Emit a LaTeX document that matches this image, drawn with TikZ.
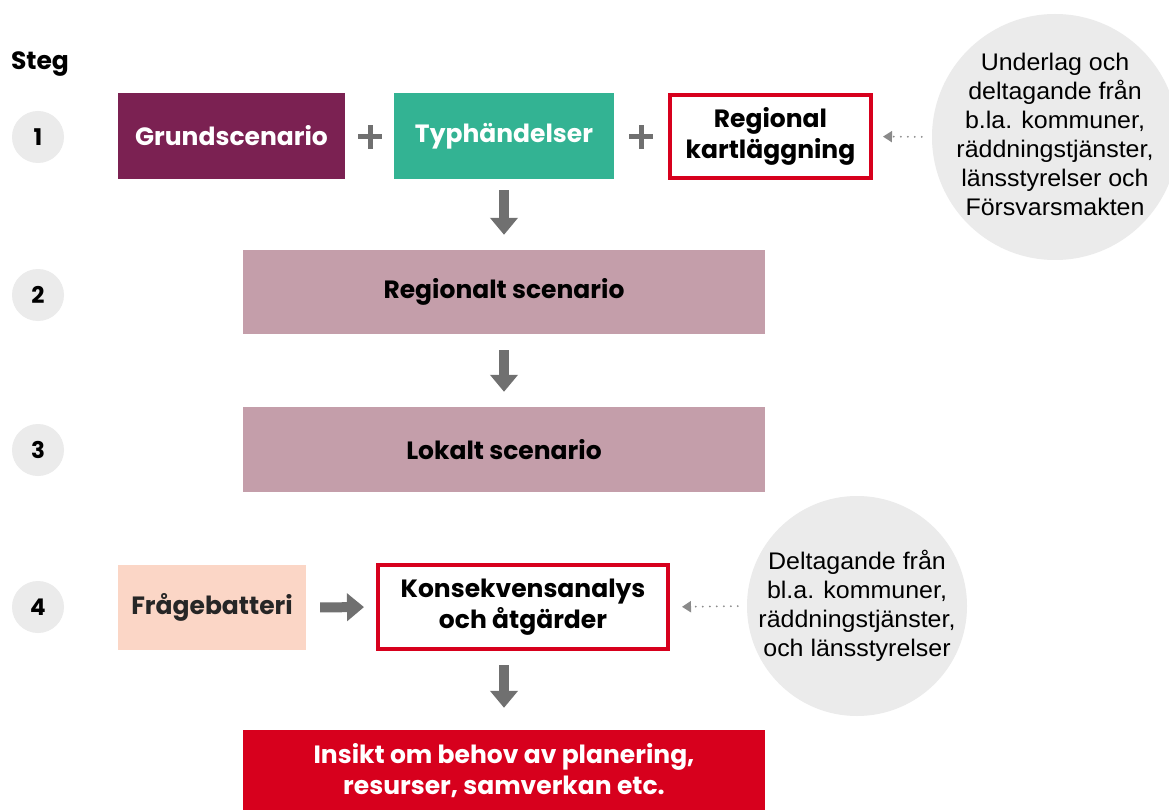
\documentclass[tikz,border=0pt]{standalone}
\usepackage{fontspec}
\setmainfont{Poppins}
\newfontfamily\arialf[FakeStretch=1.04]{Liberation Sans}
\usetikzlibrary{arrows.meta}
\definecolor{grund}{HTML}{7B2152}
\definecolor{typ}{HTML}{33B393}
\definecolor{rosa}{HTML}{C49EAA}
\definecolor{persika}{HTML}{FBD6C6}
\definecolor{rod}{HTML}{D7001D}
\definecolor{ljusgra}{HTML}{EBEBEB}
\definecolor{pilgra}{HTML}{707070}
\definecolor{prickgra}{HTML}{8A8A8A}
\tikzset{
  box/.style={rectangle, inner sep=0pt, align=center, font=\fontsize{25}{31}\selectfont\bfseries},
  redbox/.style={box, draw=rod, line width=4pt, fill=white},
  stepnum/.style={circle, fill=ljusgra, minimum size=52pt, inner sep=0pt, font=\fontsize{23}{26}\selectfont\bfseries},
  bubble/.style={circle, fill=ljusgra, inner sep=0pt},
  bubbletext/.style={inner sep=0pt, align=center, font=\arialf\fontsize{24}{29}\selectfont},
  blockarrow/.style={draw=pilgra, line width=10pt, -{Triangle[length=17pt,width=27pt]}},
  dotarrow/.style={draw=prickgra, line width=2pt, line cap=round, dash pattern=on 0pt off 7pt, -{Triangle[length=9pt,width=11pt]}},
  plusline/.style={draw=pilgra, line width=5pt}
}
\begin{document}
\begin{tikzpicture}[x=1pt,y=-1pt]
\useasboundingbox[fill=white] (0,0) rectangle (1169,810);

\node[font=\fontsize{25}{28}\selectfont\bfseries] (steg) at (40,64) {Steg};
\node[stepnum] (s1) at (38,137) {1};
\node[stepnum] (s2) at (38,295) {2};
\node[stepnum] (s3) at (38,450) {3};
\node[stepnum] (s4) at (38,607) {4};

\node[box, fill=grund, text=white, minimum width=227pt, minimum height=86pt] (grund) at (231.5,136) {Grundscenario};
\node[box, fill=typ, text=white, minimum width=220pt, minimum height=86pt] (typ) at (504,136) {Typhändelser};
\node[redbox, minimum width=201pt, minimum height=83pt] (regk) at (770.5,136.5) {Regional\\kartläggning};

\coordinate (p1) at (370,137);
\draw[plusline] ([xshift=-12pt]p1) -- ([xshift=12pt]p1);
\draw[plusline] ([yshift=-12pt]p1) -- ([yshift=12pt]p1);
\coordinate (p2) at (641,137);
\draw[plusline] ([xshift=-12pt]p2) -- ([xshift=12pt]p2);
\draw[plusline] ([yshift=-12pt]p2) -- ([yshift=12pt]p2);

\node[bubble, minimum size=246pt] (b1) at (1055,137) {};
\node[bubbletext] (b1t) at ([yshift=2.5pt]b1.center) {Underlag och\\deltagande från\\b.la. kommuner,\\räddningstjänster,\\länsstyrelser och\\Försvarsmakten};

\node[box, fill=rosa, minimum width=522pt, minimum height=84pt] (regs) at (504,292) {Regionalt scenario};
\node[box, fill=rosa, minimum width=522pt, minimum height=85pt] (loks) at (504,449.5) {Lokalt scenario};

\node[box, fill=persika, text=black!85, minimum width=188pt, minimum height=85pt] (frage) at (212,607.5) {Frågebatteri};
\node[redbox, minimum width=290pt, minimum height=84pt] (kons) at (523,607) {Konsekvensanalys\\och åtgärder};

\node[bubble, minimum size=220pt] (b2) at (857,606) {};
\node[bubbletext] (b2t) at (b2.center) {Deltagande från\\bl.a. kommuner,\\räddningstjänster,\\och länsstyrelser};

\node[box, fill=rod, text=white, minimum width=522pt, minimum height=82pt] (insikt) at (504,771) {Insikt om behov av planering,\\resurser, samverkan etc.};

\draw[blockarrow, shorten <=11pt, shorten >=15pt] (typ.south) -- (regs.north);
\draw[blockarrow, shorten <=16pt, shorten >=15pt] (regs.south) -- (loks.north);
\draw[blockarrow, shorten <=14pt, shorten >=12pt] (frage.east) -- (kons.west);
\draw[blockarrow, shorten <=14pt, shorten >=22pt] (insikt.north |- kons.south) -- (insikt.north);

\draw[dotarrow, shorten <=10pt, shorten >=10pt] (b1.west) -- (regk.east);
\draw[dotarrow, shorten <=9pt, shorten >=12pt] (b2.west) -- (kons.east);
\end{tikzpicture}
\end{document}
